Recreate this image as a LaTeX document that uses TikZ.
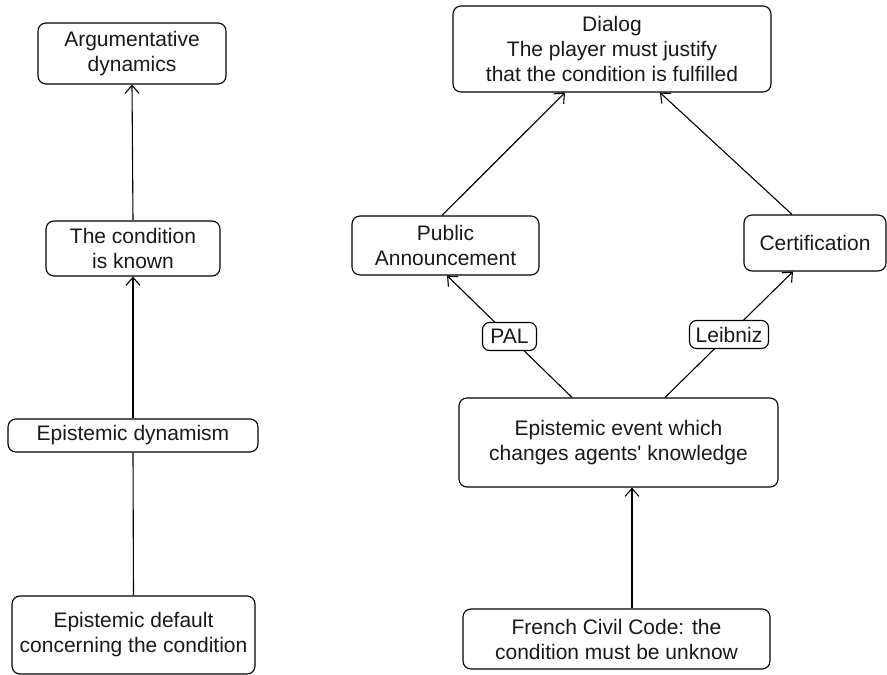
\documentclass[tikz,border=0pt]{standalone}
\usepackage{fontspec}
\setmainfont{Liberation Sans}
\usetikzlibrary{arrows.meta}

\tikzset{
  box/.style={draw, rounded corners=8pt, line width=1.1pt, inner sep=0pt,
    align=center, font=\fontsize{21}{25}\selectfont, text=black!90},
  tag/.style={box, fill=white, rounded corners=7pt},
  link/.style={line width=1.1pt, -{Straight Barb[length=8pt,width=14pt]}},
  plain/.style={line width=1.1pt},
}

\begin{document}
\begin{tikzpicture}[x=1pt,y=-1pt]
\useasboundingbox (0,0) rectangle (887,675);

% left column
\node[box, minimum width=188pt, minimum height=61pt] (arg) at (132,53.5)
  {Argumentative\\dynamics};
\node[box, minimum width=174pt, minimum height=55pt] (known) at (133,248.5)
  {The condition\\is known};
\node[box, minimum width=250pt, minimum height=33pt] (dyn) at (133,435.5)
  {Epistemic dynamism};
\node[box, minimum width=243pt, minimum height=78pt] (dflt) at (133.5,635)
  {Epistemic default\\concerning the condition};

\draw[link] (known.north) -- (arg.south);
\draw[link] (dyn.north) -- (known.south);
\draw[plain] (dflt.north) -- (dyn.south);

% right column
\node[box, minimum width=318pt, minimum height=86pt] (dialog) at (612,49)
  {Dialog\\The player must justify\\that the condition is fulfilled};
\node[box, minimum width=187pt, minimum height=59pt] (pa) at (445.5,245.5)
  {Public\\Announcement};
\node[box, minimum width=142pt, minimum height=56pt] (cert) at (815,243)
  {Certification};
\node[box, minimum width=319pt, minimum height=89pt] (event) at (618.5,442.5)
  {Epistemic event which\\changes agents\textquotesingle{} knowledge};
\node[box, minimum width=307pt, minimum height=60pt] (civil) at (616.5,639)
  {French Civil Code: the\\condition must be unknow};

\draw[link] ([xshift=-3.5pt]pa.north) -- ([xshift=-47pt]dialog.south);
\draw[link] ([xshift=-23pt]cert.north) -- ([xshift=48pt]dialog.south);
\draw[link] ([xshift=-46.5pt]event.north) -- ([xshift=1.5pt]pa.south)
  node[tag, midway, minimum width=54pt, minimum height=28pt] (pal) {PAL};
\draw[link] ([xshift=46.5pt]event.north) -- ([xshift=-22pt]cert.south)
  node[tag, midway, minimum width=79pt, minimum height=28pt] (leib) {Leibniz};
\draw[link] ([xshift=15.5pt]civil.north) -- ([xshift=13.5pt]event.south);
\end{tikzpicture}
\end{document}
